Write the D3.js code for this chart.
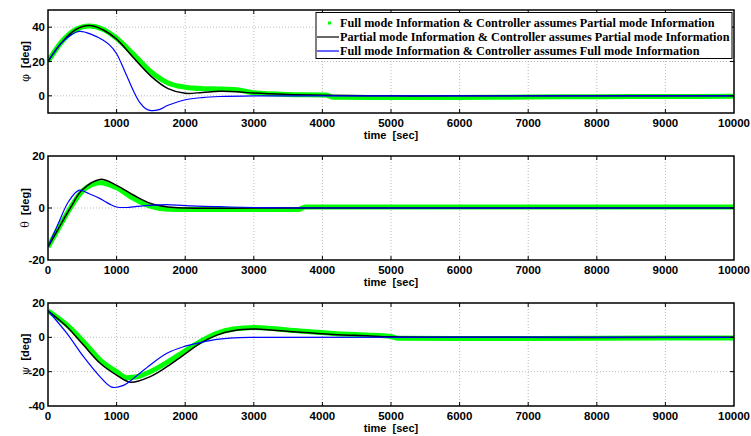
<!DOCTYPE html>
<html>
<head>
<meta charset="utf-8">
<script src="https://cdn.jsdelivr.net/npm/d3@7"></script>
<style>
  body { margin: 0; background: #fff; }
  svg text { font-family: "Liberation Sans", Arial, sans-serif; }
  .tick-label { font-size: 11.5px; font-weight: bold; fill: #000; }
  .axis-title { font-size: 11px; font-weight: bold; fill: #000; }
  .legend-text { font-family: "Liberation Serif", "Times New Roman", serif !important; font-size: 12.25px; font-weight: bold; }
  .grid line { stroke: #a8a8a8; stroke-width: 0.8; stroke-dasharray: 1,2; }
</style>
</head>
<body>
<div id="chart"></div>
<script>
const W = 751, H = 436;

const legendLabels = [
    "Full mode Information & Controller assumes Partial mode Information",
    "Partial mode Information & Controller assumes Partial mode Information",
    "Full mode Information & Controller assumes Full mode Information"
];
const seriesColors = ["#00ff00", "#000000", "#0000ff"];

const xTicks = [0, 1000, 2000, 3000, 4000, 5000, 6000, 7000, 8000, 9000, 10000];

// phi
const phiGreenT = [0, 200, 400, 600, 800, 1000, 1250, 1500, 1750, 2000, 2250, 2500, 2750, 3000, 3500, 4050, 4150, 5000, 6000, 7000, 8000, 9000, 10000];
const phiGreenV = [20, 31.5, 38.5, 40.7, 38.8, 33.5, 24, 14, 7.5, 5, 4.2, 4, 3.5, 1.8, 0.8, 0.5, -0.8, -1.0, -0.9, -0.7, -0.5, -0.4, -0.3];
const phiBlackT = [0, 200, 400, 600, 800, 1000, 1250, 1500, 1750, 2000, 2250, 2500, 2750, 3000, 3500, 4000, 5000, 6000, 8000, 10000];
const phiBlackV = [20, 31, 38.5, 41, 38.5, 33, 22, 11.5, 4.2, 1.5, 2, 2.6, 2.4, 1.6, 0.8, 0.4, 0, 0, 0, 0];
const phiBlueT = [0, 200, 450, 650, 800, 900, 1000, 1120, 1250, 1340, 1420, 1500, 1620, 1750, 2000, 2250, 2500, 3000, 4000, 10000];
const phiBlueV = [20, 31, 37.5, 35.5, 32.5, 29.5, 24.5, 14.2, 2.5, -4, -7.4, -8.6, -8, -5.5, -2.3, -1, -0.4, 0, 0, 0];

// theta
const thetaGreenT = [0, 150, 325, 500, 760, 1000, 1250, 1500, 1750, 2000, 2500, 3000, 3650, 3750, 5000, 7000, 10000];
const thetaGreenV = [-15, -8, 0, 6.5, 9.7, 7.8, 3.6, 0.6, -0.5, -0.6, -0.6, -0.6, -0.6, 0.4, 0.4, 0.4, 0.4];
const thetaBlackT = [0, 150, 325, 500, 760, 1000, 1250, 1500, 1750, 2000, 2500, 3000, 10000];
const thetaBlackV = [-15, -8, 0, 7, 11, 8.7, 4.9, 1.7, 0.4, 0, -0.1, 0, 0];
const thetaBlueT = [0, 150, 300, 450, 600, 760, 900, 1000, 1140, 1300, 1490, 1730, 2000, 2500, 3000, 4000, 10000];
const thetaBlueV = [-15, -6, 2.5, 6.8, 5.5, 3.6, 1.5, 0.4, 0.2, 0.6, 1, 1.3, 0.9, 0.5, 0.2, 0, 0];

// psi
const psiGreenT = [0, 276, 518, 760, 1000, 1150, 1300, 1490, 1733, 1975, 2218, 2460, 2700, 3000, 3100, 3674, 4160, 4645, 5000, 5100, 6000, 8000, 10000];
const psiGreenV = [15.5, 7.2, -2.5, -13.2, -20, -23.5, -23, -20, -14.6, -8.4, -2.5, 2.3, 4.8, 5.7, 5.6, 3.7, 2.3, 1.4, 0.5, -0.6, -0.7, -0.5, -0.4];
const psiBlackT = [0, 276, 518, 760, 1000, 1200, 1490, 1733, 1975, 2218, 2460, 2700, 3000, 3100, 3674, 4160, 4645, 5000, 6000, 10000];
const psiBlackV = [15.5, 6.2, -4.5, -15.1, -22, -26.2, -22.9, -17.1, -10.3, -3.5, 1.3, 3.8, 4.8, 4.7, 2.9, 1.7, 0.9, 0.3, 0, 0];
const psiBlueT = [0, 276, 518, 760, 930, 1100, 1247, 1490, 1733, 1975, 2218, 2460, 2700, 3000, 10000];
const psiBlueV = [15.5, 2.3, -11.3, -23, -29, -28, -23.9, -16.1, -9.3, -5.5, -3.1, -1.2, -0.3, 0, 0];

const zip = (t, v) => t.map((d, i) => [d, v[i]]);

const panels = [
    { sym: "\u03c6", top: 10, bottom: 113, yDomain: [-10, 50], yTicks: [0, 20, 40], zeroLabel: false,
      series: [zip(phiGreenT, phiGreenV), zip(phiBlackT, phiBlackV), zip(phiBlueT, phiBlueV)], legend: true },
    { sym: "\u03b8", top: 156, bottom: 260, yDomain: [-20, 20], yTicks: [-20, 0, 20], zeroLabel: true,
      series: [zip(thetaGreenT, thetaGreenV), zip(thetaBlackT, thetaBlackV), zip(thetaBlueT, thetaBlueV)] },
    { sym: "\u03c8", top: 303, bottom: 406, yDomain: [-40, 20], yTicks: [-40, -20, 0, 20], zeroLabel: true,
      series: [zip(psiGreenT, psiGreenV), zip(psiBlackT, psiBlackV), zip(psiBlueT, psiBlueV)] }
];

const svg = d3.select("#chart").append("svg")
    .attr("width", W)
    .attr("height", H);

const x = d3.scaleLinear().domain([0, 10000]).range([48, 734]);
const widths = [5, 1.5, 1.2];

panels.forEach((p, pi) => {
    const y = d3.scaleLinear().domain(p.yDomain).range([p.bottom, p.top]);
    const clipId = "clip" + pi;

    svg.append("clipPath").attr("id", clipId)
        .append("rect")
        .attr("x", x.range()[0]).attr("y", p.top)
        .attr("width", x.range()[1] - x.range()[0]).attr("height", p.bottom - p.top);

    const grid = svg.append("g").classed("grid", true);
    grid.selectAll(".vx").data(xTicks.slice(1, -1)).enter().append("line")
        .attr("x1", d => x(d)).attr("x2", d => x(d))
        .attr("y1", p.top).attr("y2", p.bottom);
    grid.selectAll(".hy").data(p.yTicks.filter(d => d > p.yDomain[0] && d < p.yDomain[1])).enter().append("line")
        .attr("x1", x.range()[0]).attr("x2", x.range()[1])
        .attr("y1", d => y(d)).attr("y2", d => y(d));

    // green has small jumps, so keep it monotone; the others smooth
    const smooth = d3.line()
        .x(d => x(d[0]))
        .y(d => y(d[1]))
        .curve(d3.curveCatmullRom.alpha(0.5));
    const mono = d3.line()
        .x(d => x(d[0]))
        .y(d => y(d[1]))
        .curve(d3.curveMonotoneX);

    const plot = svg.append("g").attr("clip-path", "url(#" + clipId + ")");
    p.series.forEach((s, i) => {
        plot.append("path")
            .datum(s)
            .attr("fill", "none")
            .attr("stroke", seriesColors[i])
            .attr("stroke-width", widths[i])
            .attr("stroke-linejoin", "round")
            .attr("d", i === 0 ? mono : smooth);
    });

    // ticks inside on all sides
    const tk = svg.append("g").attr("stroke", "#000").attr("stroke-width", 1);
    xTicks.slice(1, -1).forEach(t => {
        tk.append("line").attr("x1", x(t)).attr("x2", x(t)).attr("y1", p.bottom).attr("y2", p.bottom - 4);
        tk.append("line").attr("x1", x(t)).attr("x2", x(t)).attr("y1", p.top).attr("y2", p.top + 4);
    });
    p.yTicks.filter(d => d > p.yDomain[0] && d < p.yDomain[1]).forEach(t => {
        tk.append("line").attr("x1", x.range()[0]).attr("x2", x.range()[0] + 4).attr("y1", y(t)).attr("y2", y(t));
        tk.append("line").attr("x1", x.range()[1]).attr("x2", x.range()[1] - 4).attr("y1", y(t)).attr("y2", y(t));
    });

    svg.append("rect")
        .attr("x", x.range()[0]).attr("y", p.top)
        .attr("width", x.range()[1] - x.range()[0]).attr("height", p.bottom - p.top)
        .attr("fill", "none").attr("stroke", "#000").attr("stroke-width", 1.5);

    // tick labels
    const xl = p.zeroLabel ? xTicks : xTicks.slice(1);
    svg.selectAll(null).data(xl).enter().append("text")
        .classed("tick-label", true)
        .attr("x", d => x(d)).attr("y", p.bottom + 14)
        .attr("text-anchor", "middle")
        .text(d => d);
    svg.selectAll(null).data(p.yTicks).enter().append("text")
        .classed("tick-label", true)
        .attr("x", 45).attr("y", d => y(d) + 4)
        .attr("text-anchor", "end")
        .text(d => d);

    svg.append("text").classed("axis-title", true)
        .attr("x", 391).attr("y", p.bottom + 26)
        .attr("text-anchor", "middle")
        .text("time\u00a0\u00a0[sec]");

    const yl = svg.append("text").classed("axis-title", true)
        .attr("transform", "translate(" + 29 + "," + ((p.top + p.bottom) / 2) + ") rotate(-90)")
        .attr("text-anchor", "middle");
    yl.append("tspan").style("font-weight", "normal").style("font-family", "'DejaVu Serif', serif").text(p.sym);
    yl.append("tspan").text("\u00a0\u00a0[deg]");

    if (p.legend) {
        const lg = svg.append("g");
        lg.append("rect")
            .attr("x", 316).attr("y", 12.5).attr("width", 416).attr("height", 46)
            .attr("fill", "#fff").attr("stroke", "#000").attr("stroke-width", 1);
        legendLabels.forEach((lab, i) => {
            const ry = 23 + i * 14;
            if (i === 0) {
                lg.append("rect").attr("x", 328).attr("y", ry - 1.5).attr("width", 3).attr("height", 3).attr("fill", seriesColors[0]);
            } else {
                lg.append("line").attr("x1", 317).attr("x2", 339).attr("y1", ry).attr("y2", ry)
                    .attr("stroke", seriesColors[i]).attr("stroke-width", 1.2);
            }
            lg.append("text").classed("legend-text", true)
                .attr("x", 340).attr("y", ry + 4)
                .text(lab);
        });
    }
});
</script>
</body>
</html>
